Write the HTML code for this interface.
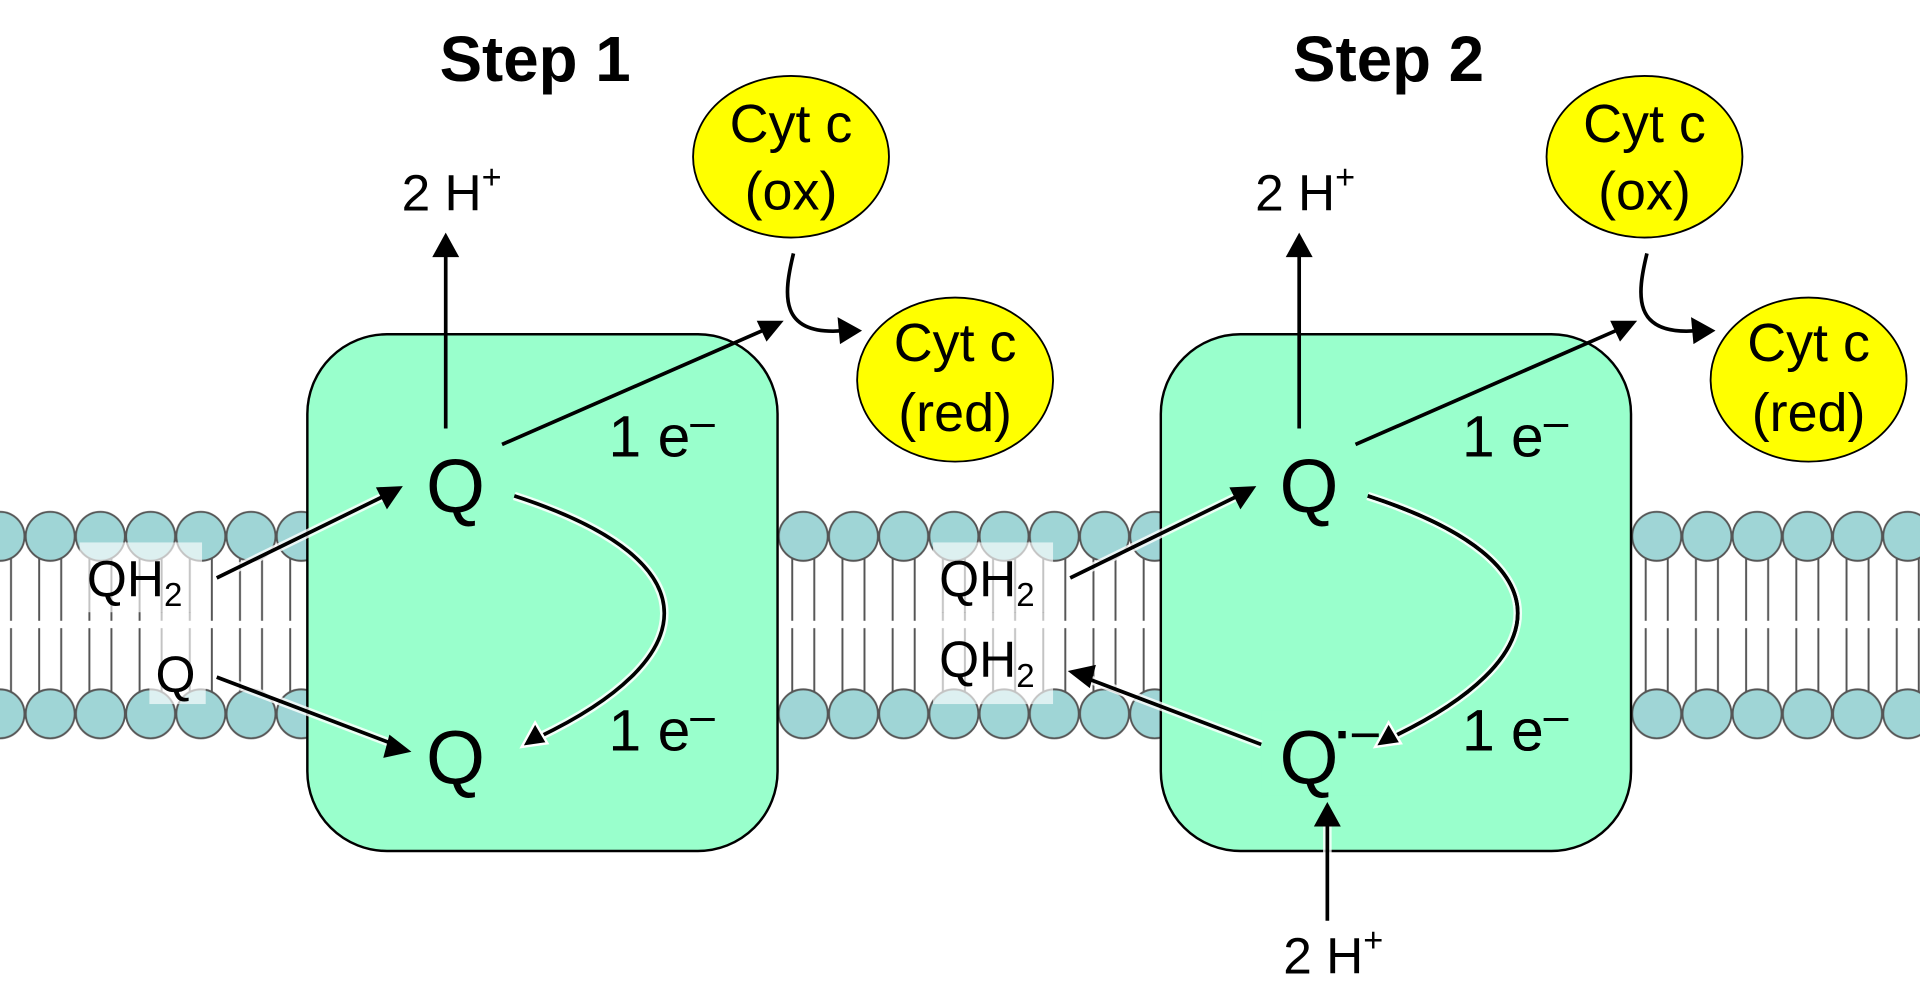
<!DOCTYPE html>
<html><head><meta charset="utf-8"><style>html,body{margin:0;padding:0;background:#fff}svg{display:block}text{font-family:"Liberation Sans",sans-serif}</style></head><body>
<svg width="1920" height="1006" viewBox="0 0 1568 821.6" preserveAspectRatio="none" xmlns="http://www.w3.org/2000/svg">
<defs>
<pattern id="mem" x="-20.5" y="415" width="41" height="190" patternUnits="userSpaceOnUse">
<g stroke="#555" stroke-width="1.6">
<line x1="11.5" y1="40" x2="11.5" y2="92"/><line x1="29.5" y1="40" x2="29.5" y2="92"/>
<line x1="11.5" y1="98" x2="11.5" y2="150"/><line x1="29.5" y1="98" x2="29.5" y2="150"/>
</g>
<circle cx="20.5" cy="23" r="20" fill="#9fd5d6" stroke="#555" stroke-width="1.6"/>
<circle cx="20.5" cy="168" r="20" fill="#9fd5d6" stroke="#555" stroke-width="1.6"/>
</pattern>
</defs>
<rect x="0" y="415" width="1568" height="190" fill="url(#mem)"/>
<g fill="#fff" opacity="0.65">
<rect x="65" y="443" width="100" height="57"/><rect x="122" y="500" width="46" height="75"/>
<rect x="762" y="443" width="98" height="57"/><rect x="762" y="500" width="98" height="75"/>
</g>
<text x="437" y="66" font-size="52" font-weight="bold" text-anchor="middle">Step 1</text>
<text x="1134" y="66" font-size="52" font-weight="bold" text-anchor="middle">Step 2</text>
<g id="s1">
<rect x="251" y="273" width="384" height="422" rx="65" fill="#99ffcc" stroke="#000" stroke-width="2"/>
<text x="328" y="172" font-size="42">2 H<tspan font-size="28" dy="-18">+</tspan></text>
<line x1="364" y1="350" x2="364" y2="205" stroke="#000" stroke-width="3"/>
<polygon points="364,190 353,210 375,210" fill="#000"/>
<ellipse cx="646" cy="128" rx="80" ry="66" fill="#ff0" stroke="#000" stroke-width="1.5"/>
<text x="646" y="116" font-size="44" text-anchor="middle">Cyt c</text>
<text x="646" y="171" font-size="44" text-anchor="middle">(ox)</text>
<ellipse cx="780" cy="310" rx="80" ry="67" fill="#ff0" stroke="#000" stroke-width="1.5"/>
<text x="780" y="295" font-size="44" text-anchor="middle">Cyt c</text>
<text x="780" y="352" font-size="44" text-anchor="middle">(red)</text>
<text x="372" y="418" font-size="62" text-anchor="middle">Q</text>
<text x="497" y="373" font-size="48">1 e<tspan dy="-16" font-size="36">–</tspan></text>
<text x="497" y="613" font-size="48">1 e<tspan dy="-16" font-size="36">–</tspan></text>
<path d="M420,405 C590,460 570,540 440,602" stroke="#fff" stroke-width="7" fill="none" opacity="0.85"/>
<path d="M410,363 L625,269" stroke="#000" stroke-width="3"/>
<polygon points="640,262 618,262 626,279" fill="#000"/>
<path d="M648,207 C640,240 635,275 690,270" stroke="#000" stroke-width="3" fill="none"/>
<polygon points="704,270 684,259 686,281" fill="#000"/>
<path d="M420,405 C590,460 570,540 440,602" stroke="#000" stroke-width="3" fill="none"/>
<polygon points="426,610 437,590 447,607" fill="#000" stroke="#fff" stroke-width="2"/>
</g>
<use href="#s1" transform="translate(697,0)"/>
<rect x="1030" y="580" width="110" height="70" fill="#99ffcc"/>
<text x="372" y="640" font-size="62" text-anchor="middle">Q</text>
<text x="1069" y="640" font-size="62" text-anchor="middle">Q</text>
<rect x="1093" y="597" width="6" height="6" fill="#000"/>
<rect x="1104" y="599" width="22" height="3" fill="#000"/>
<path d="M1117,405 C1287,460 1267,540 1137,602" stroke="#000" stroke-width="3" fill="none"/>
<polygon points="1123,610 1134,590 1144,607" fill="#000" stroke="#fff" stroke-width="2"/>
<text x="1194" y="613" font-size="48">1 e<tspan dy="-16" font-size="36">–</tspan></text>
<text font-size="42" x="71" y="487">QH<tspan font-size="27" dy="8">2</tspan></text>
<text font-size="42" x="127" y="565">Q</text>
<text font-size="42" x="767" y="487">QH<tspan font-size="27" dy="8">2</tspan></text>
<text font-size="42" x="767" y="553">QH<tspan font-size="27" dy="8">2</tspan></text>
<g stroke="#fff" stroke-width="7" opacity="0.8">
<line x1="177" y1="472" x2="318" y2="403"/><line x1="177" y1="553" x2="322" y2="608"/>
<line x1="874" y1="472" x2="1015" y2="403"/><line x1="1030" y1="608" x2="885" y2="553"/>
<line x1="1084" y1="752" x2="1084" y2="670"/>
</g>
<g stroke="#000" stroke-width="3">
<line x1="177" y1="472" x2="318" y2="403"/><line x1="177" y1="553" x2="322" y2="608"/>
<line x1="874" y1="472" x2="1015" y2="403"/><line x1="1030" y1="608" x2="885" y2="553"/>
<line x1="1084" y1="752" x2="1084" y2="670"/>
</g>
<g fill="#000">
<polygon points="329,397 307,398 316,416"/>
<polygon points="336,614 318,600 313,619"/>
<polygon points="1026,397 1004,398 1013,416"/>
<polygon points="872,548 890,562 895,543"/>
<polygon points="1084,655 1073,675 1095,675"/>
</g>
<text x="1048" y="795" font-size="42">2 H<tspan font-size="28" dy="-18">+</tspan></text>
</svg>
</body></html>
